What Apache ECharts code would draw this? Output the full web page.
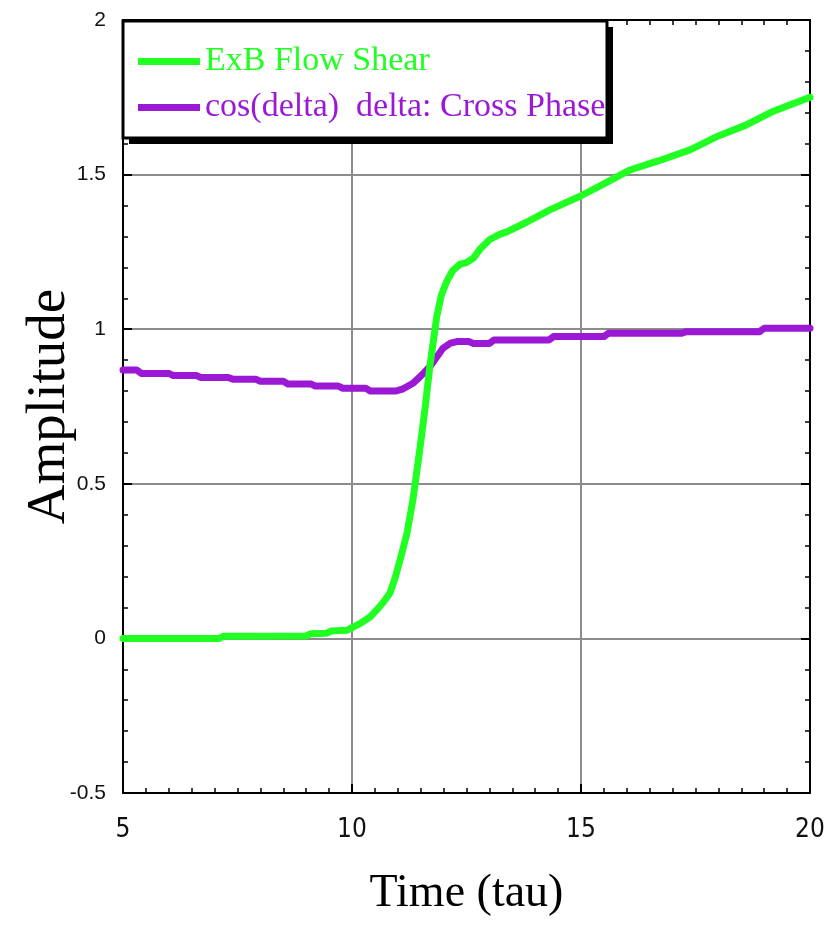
<!DOCTYPE html>
<html>
<head>
<meta charset="utf-8">
<script src="https://cdn.jsdelivr.net/npm/echarts@6/dist/echarts.min.js"></script>
<style>
html,body{margin:0;padding:0;background:#fff;}
#chart{width:834px;height:925px;}
</style>
</head>
<body>
<div id="chart"></div>
<script>
// ---- data ----
var seriesNames = ['ExB Flow Shear', 'cos(delta)  delta: Cross Phase'];
var xTicks = [5, 10, 15, 20];
var yTicks = [-0.5, 0, 0.5, 1, 1.5, 2];

var timeShear = [5, 7.1, 7.2, 9.0, 9.1, 9.45, 9.55, 9.88, 10.02, 10.2, 10.4, 10.54, 10.7, 10.83, 10.95, 11.05, 11.2, 11.33, 11.48, 11.6, 11.7, 11.85, 11.95, 12.07, 12.2, 12.36, 12.5, 12.65, 12.8, 13.01, 13.2, 13.38, 13.8, 14.32, 14.98, 15.5, 16.07, 16.7, 17.38, 18.0, 18.6, 19.2, 20];
var shear = [0, 0, 0.007, 0.008, 0.015, 0.017, 0.024, 0.026, 0.036, 0.05, 0.07, 0.092, 0.12, 0.147, 0.2, 0.254, 0.34, 0.448, 0.61, 0.75, 0.88, 1.04, 1.11, 1.155, 1.19, 1.21, 1.215, 1.23, 1.26, 1.29, 1.305, 1.315, 1.345, 1.386, 1.43, 1.47, 1.515, 1.545, 1.58, 1.625, 1.66, 1.705, 1.75];

var timePhase = [5, 5.3, 5.4, 6.0, 6.1, 6.6, 6.7, 7.3, 7.4, 7.9, 8.0, 8.5, 8.6, 9.1, 9.2, 9.7, 9.8, 10.3, 10.4, 10.95, 11.1, 11.33, 11.5, 11.7, 11.85, 11.99, 12.15, 12.29, 12.55, 12.65, 13.0, 13.1, 14.3, 14.4, 15.5, 15.6, 17.2, 17.3, 18.9, 19.0, 20];
var cosPhase = [0.868, 0.868, 0.857, 0.857, 0.850, 0.850, 0.844, 0.844, 0.838, 0.838, 0.832, 0.832, 0.823, 0.823, 0.816, 0.816, 0.809, 0.809, 0.800, 0.800, 0.806, 0.825, 0.848, 0.879, 0.91, 0.939, 0.955, 0.96, 0.96, 0.954, 0.954, 0.965, 0.965, 0.976, 0.976, 0.987, 0.987, 0.992, 0.992, 1.003, 1.003];

var colors = ['#22ff22', '#9b19d4'];

function pairs(xs, ys) { return xs.map(function (x, i) { return [x, ys[i]]; }); }

var xMin = xTicks[0], xMax = xTicks[xTicks.length - 1], xInt = xTicks[1] - xTicks[0];
var yMin = yTicks[0], yMax = yTicks[yTicks.length - 1], yInt = yTicks[1] - yTicks[0];

var chart = echarts.init(document.getElementById('chart'), null, {renderer: 'canvas'});

function baseAxis(extra) {
  var a = {
    type: 'value',
    axisLine: {show: true, onZero: false, lineStyle: {color: '#000', width: 2}},
    axisTick: {show: true, inside: true, length: 9, lineStyle: {color: '#000', width: 2}},
    minorTick: {show: true, length: 5, lineStyle: {color: '#000', width: 1.5}},
    splitLine: {show: false}
  };
  for (var k in extra) a[k] = extra[k];
  return a;
}

var option = {
  backgroundColor: '#fff',
  animation: false,
  grid: {left: 123, right: 24, top: 20, bottom: 132, containLabel: false, outerBoundsMode: 'none'},
  xAxis: [
    baseAxis({
      position: 'bottom', min: xMin, max: xMax, interval: xInt,
      minorTick: {show: true, splitNumber: 10, length: 5, lineStyle: {color: '#000', width: 1.5}},
      splitLine: {show: true, lineStyle: {color: '#8c8c8c', width: 2}},
      axisLabel: {margin: 24, color: '#111', fontSize: 26, fontFamily: '"Liberation Sans Narrow", "DejaVu Sans Condensed", Arial, sans-serif'},
      name: 'Time (tau)', nameLocation: 'middle', nameGap: 78, nameMoveOverlap: false,
      nameTextStyle: {fontFamily: '"Liberation Serif", "Times New Roman", serif', fontSize: 46, color: '#000'}
    }),
    baseAxis({
      position: 'top', min: xMin, max: xMax, interval: xInt,
      minorTick: {show: true, splitNumber: 10, length: 5, lineStyle: {color: '#000', width: 1.5}},
      axisLabel: {show: false}
    })
  ],
  yAxis: [
    baseAxis({
      position: 'left', min: yMin, max: yMax, interval: yInt,
      minorTick: {show: true, splitNumber: 5, length: 5, lineStyle: {color: '#000', width: 1.5}},
      splitLine: {show: true, lineStyle: {color: '#8c8c8c', width: 2}},
      axisLabel: {margin: 17, color: '#111', fontSize: 21, fontFamily: '"Liberation Sans", Arial, sans-serif'},
      name: 'Amplitude', nameLocation: 'middle', nameGap: 46, nameRotate: 90, nameMoveOverlap: false,
      nameTextStyle: {fontFamily: '"Liberation Serif", "Times New Roman", serif', fontSize: 55, color: '#000'}
    }),
    baseAxis({
      position: 'right', min: yMin, max: yMax, interval: yInt,
      minorTick: {show: true, splitNumber: 5, length: 5, lineStyle: {color: '#000', width: 1.5}},
      axisLabel: {show: false}
    })
  ],
  legend: {
    orient: 'vertical', left: 133, top: 38, z: 200,
    icon: 'rect', itemWidth: 62, itemHeight: 7, itemGap: 9,
    textStyle: {fontFamily: '"Liberation Serif", "Times New Roman", serif', fontSize: 34, lineHeight: 37},
    data: [
      {name: seriesNames[0], textStyle: {color: colors[0]}},
      {name: seriesNames[1], textStyle: {color: colors[1]}}
    ]
  },
  graphic: [
    {type: 'rect', z: 100, shape: {x: 129, y: 27, width: 484, height: 117}, style: {fill: '#000'}},
    {type: 'rect', z: 101, shape: {x: 123, y: 21, width: 484, height: 117}, style: {fill: '#fff', stroke: '#000', lineWidth: 3}}
  ],
  series: [
    {
      name: seriesNames[0], type: 'line', xAxisIndex: 0, yAxisIndex: 0,
      data: pairs(timeShear, shear), showSymbol: false, symbol: 'none',
      itemStyle: {color: colors[0]},
      lineStyle: {color: colors[0], width: 7, cap: 'round', join: 'round'}, z: 3
    },
    {
      name: seriesNames[1], type: 'line', xAxisIndex: 0, yAxisIndex: 0,
      data: pairs(timePhase, cosPhase), showSymbol: false, symbol: 'none',
      itemStyle: {color: colors[1]},
      lineStyle: {color: colors[1], width: 7, cap: 'round', join: 'round'}, z: 2
    }
  ]
};
chart.setOption(option);
</script>
</body>
</html>
